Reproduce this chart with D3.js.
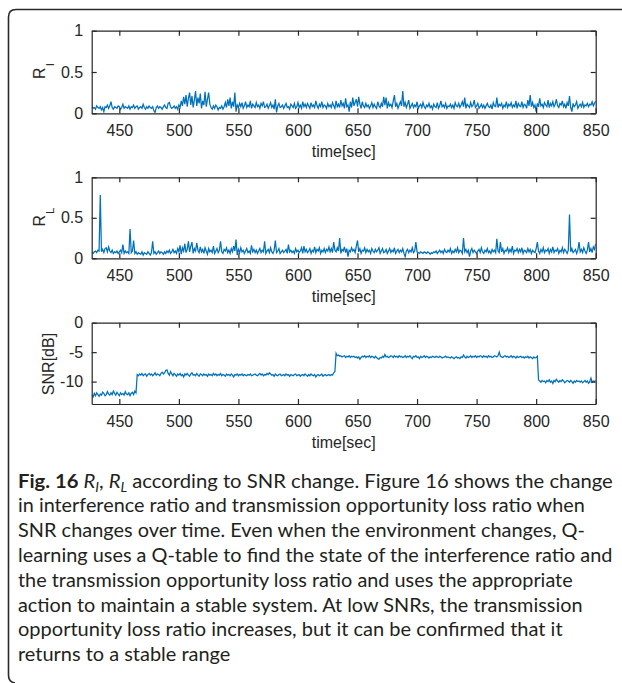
<!DOCTYPE html>
<html>
<head>
<meta charset="UTF-8">
<style>
body {margin:0; background:#fff;}
svg text {font-family: "Liberation Sans", Arial, sans-serif; fill:#262626;}
.axis text {font-size:16px; fill:#262626;}
.axis path, .axis line {stroke:#262626; stroke-width:1.2px;}
.ylab {font-size:16px;}
.cap text {font-family: Lato, "Open Sans", sans-serif; font-size:19px; fill:#231f20;}
.series {fill:none; stroke:#0072BD; stroke-width:1.25px;}
</style>
<script src="https://cdn.jsdelivr.net/npm/d3@7"></script>
<title>Fig. 16</title>
</head>
<body>
<svg id="chart" width="622" height="683"></svg>
<script>
// one sample per second, first sample at t = 427 s
var tStart = 427;
var xTicks = [450, 500, 550, 600, 650, 700, 750, 800, 850];
var rTicks = [0, 0.5, 1];
var rTickLabels = ['0', '0.5', '1'];
var snrTicks = [-10, -5, 0];
var snrTickLabels = ['-10', '-5', '0'];

// interference ratio R_I
var rI = [
 .08,.06,.07,.05,.09,.07,.06,.08,.04,.07,
 .02,.08,.07,.10,.06,.09,.14,.07,.05,.08,
 .07,.06,.09,.08,.05,.07,.11,.06,.08,.07,
 .06,.09,.05,.08,.07,.10,.06,.08,.09,.05,
 .07,.08,.06,.11,.07,.05,.08,.06,.09,.07,
 .06,.08,.03,.01,.07,.09,.06,.08,.07,.05,
 .08,.10,.07,.06,.12,.13,.08,.06,.07,.09,
 .06,.08,.05,.10,.07,.15,.09,.20,.11,.22,
 .08,.18,.25,.10,.21,.07,.16,.27,.09,.19,
 .12,.24,.06,.15,.10,.26,.08,.17,.25,.11,
 .07,.05,.09,.06,.10,.08,.04,.07,.06,.09,
 .05,.08,.13,.07,.17,.09,.19,.06,.14,.08,
 .25,.02,.10,.07,.12,.08,.13,.06,.09,.14,
 .07,.10,.08,.15,.06,.11,.09,.07,.13,.08,
 .10,.06,.12,.09,.14,.07,.08,.11,.06,.09,
 .13,.07,.10,.05,.17,.01,.09,.12,.07,.08,
 .10,.06,.09,.12,.07,.08,.05,.11,.09,.07,
 .12,.06,.08,.13,.07,.10,.06,.14,.08,.11,
 .07,.12,.09,.06,.13,.08,.10,.07,.15,.09,
 .06,.11,.08,.14,.07,.10,.09,.06,.12,.08,
 .10,.07,.13,.09,.06,.15,.08,.11,.07,.16,
 .09,.12,.06,.18,.08,.10,.02,.14,.07,.19,
 .09,.13,.17,.08,.20,.11,.06,.14,.09,.07,
 .12,.08,.10,.06,.09,.13,.07,.11,.08,.06,
 .14,.09,.07,.12,.08,.20,.10,.19,.06,.13,
 .09,.11,.07,.15,.22,.08,.12,.06,.10,.14,
 .09,.27,.08,.13,.07,.11,.16,.06,.09,.12,
 .07,.10,.08,.14,.06,.09,.11,.07,.13,.08,
 .06,.10,.08,.12,.07,.09,.05,.11,.08,.07,
 .13,.06,.09,.15,.08,.10,.07,.12,.06,.09,
 .08,.11,.07,.10,.06,.13,.09,.08,.12,.07,
 .10,.14,.08,.19,.06,.11,.09,.07,.13,.08,
 .10,.16,.07,.09,.12,.06,.08,.11,.07,.10,
 .06,.09,.12,.08,.07,.10,.05,.13,.09,.08,
 .19,.07,.11,.09,.12,.06,.10,.08,.14,.07,
 .11,.09,.13,.07,.10,.08,.15,.06,.12,.09,
 .08,.14,.07,.11,.10,.06,.16,.09,.22,.08,
 .13,.07,.10,.02,.12,.08,.18,.09,.11,.07,
 .13,.10,.08,.16,.07,.12,.09,.14,.08,.11,
 .17,.09,.07,.12,.10,.15,.08,.11,.06,.13,
 .09,.21,.07,.02,.12,.08,.10,.14,.06,.09,
 .11,.08,.13,.07,.10,.09,.12,.08,.11,.10,
 .14,.09,.12,.15
];

// transmission opportunity loss ratio R_L
var rL = [
 .07,.06,.08,.09,.07,.10,.09,.78,.08,.11,
 .07,.12,.13,.08,.14,.09,.07,.10,.06,.08,
 .07,.09,.06,.08,.10,.07,.17,.06,.09,.07,
 .08,.06,.36,.07,.09,.22,.06,.08,.05,.07,
 .06,.05,.08,.04,.07,.06,.05,.08,.06,.04,
 .07,.21,.06,.08,.05,.07,.09,.06,.08,.07,
 .05,.08,.06,.09,.07,.10,.06,.08,.11,.07,
 .09,.06,.12,.08,.16,.05,.13,.09,.18,.07,
 .11,.21,.08,.15,.20,.06,.12,.09,.19,.10,
 .07,.14,.08,.11,.06,.13,.09,.05,.12,.08,
 .10,.07,.15,.06,.09,.12,.07,.10,.21,.08,
 .06,.11,.09,.13,.07,.10,.06,.12,.08,.15,
 .09,.23,.04,.11,.07,.13,.08,.10,.06,.09,
 .12,.07,.09,.06,.16,.08,.11,.07,.10,.06,
 .09,.12,.07,.10,.08,.21,.06,.09,.11,.07,
 .13,.08,.06,.10,.22,.07,.09,.12,.06,.08,
 .10,.07,.09,.11,.06,.17,.08,.10,.07,.09,
 .06,.12,.08,.10,.07,.09,.13,.06,.15,.08,
 .11,.07,.09,.12,.06,.10,.08,.14,.07,.11,
 .09,.13,.06,.10,.08,.12,.07,.11,.09,.14,
 .08,.12,.07,.20,.10,.08,.13,.09,.25,.06,
 .11,.09,.14,.07,.12,.02,.10,.08,.13,.09,
 .11,.07,.15,.22,.08,.12,.06,.10,.09,.13,
 .07,.11,.08,.10,.06,.12,.09,.07,.11,.08,
 .10,.13,.06,.09,.12,.07,.08,.11,.06,.09,
 .12,.07,.10,.08,.13,.06,.09,.11,.07,.10,
 .08,.12,.06,.02,.09,.11,.07,.10,.08,.13,
 .07,.09,.20,.08,.07,.06,.08,.07,.06,.08,
 .07,.06,.08,.07,.05,.07,.06,.08,.07,.09,
 .06,.08,.10,.07,.09,.06,.11,.08,.07,.10,
 .08,.12,.06,.09,.07,.11,.08,.13,.07,.10,
 .09,.06,.25,.08,.11,.07,.10,.02,.09,.12,
 .07,.10,.08,.06,.09,.11,.07,.13,.08,.06,
 .10,.08,.12,.07,.09,.06,.11,.08,.10,.07,
 .24,.09,.07,.20,.08,.12,.06,.10,.09,.13,
 .07,.11,.08,.15,.06,.10,.09,.12,.07,.11,
 .08,.13,.06,.10,.09,.07,.12,.08,.11,.06,
 .10,.08,.07,.12,.20,.09,.06,.11,.08,.13,
 .07,.10,.09,.12,.06,.11,.08,.14,.07,.10,
 .09,.12,.06,.10,.08,.13,.07,.11,.09,.06,
 .10,.54,.08,.12,.07,.09,.11,.06,.10,.20,
 .08,.11,.07,.13,.09,.06,.10,.20,.08,.12,
 .07,.14,.11,.18
];

// SNR [dB]
var snr = [
 -12.3,-12.6,-12.0,-12.4,-11.9,-12.2,-12.5,-12.1,-12.3,-11.8,
 -12.0,-12.4,-12.2,-11.7,-12.1,-12.3,-11.9,-12.2,-11.6,-12.0,
 -12.3,-11.8,-12.1,-12.4,-11.9,-12.2,-12.0,-12.3,-11.7,-12.1,
 -12.2,-11.9,-12.4,-12.0,-11.8,-12.2,-11.6,-11.9,-8.8,-9.0,
 -8.7,-8.9,-8.6,-9.0,-8.8,-8.7,-9.1,-8.8,-8.6,-8.9,
 -8.7,-9.0,-8.8,-8.5,-8.9,-8.7,-8.8,-9.0,-8.6,-8.4,
 -8.7,-8.5,-8.1,-8.0,-8.6,-8.9,-8.3,-8.7,-9.0,-8.6,
 -8.8,-9.1,-8.7,-8.9,-8.6,-9.0,-8.8,-9.2,-8.7,-8.9,
 -8.6,-8.9,-9.1,-8.7,-8.5,-8.9,-8.8,-9.0,-8.6,-8.9,
 -9.1,-8.7,-8.8,-9.0,-8.7,-8.9,-8.8,-9.1,-8.7,-8.9,
 -8.8,-9.0,-8.6,-8.9,-8.7,-9.0,-8.8,-8.9,-8.6,-9.0,
 -8.8,-8.9,-9.1,-8.7,-8.9,-8.8,-9.0,-8.7,-8.9,-9.2,
 -8.8,-8.9,-8.7,-9.0,-8.8,-8.9,-8.7,-9.0,-8.8,-8.9,
 -9.0,-8.8,-8.9,-8.7,-9.0,-8.9,-8.8,-8.7,-8.9,-9.0,
 -8.8,-8.6,-8.9,-8.7,-9.0,-8.8,-8.9,-8.6,-8.8,-8.5,
 -8.7,-8.9,-8.8,-9.1,-8.7,-8.9,-9.0,-8.8,-8.7,-9.0,
 -8.9,-8.8,-9.0,-8.7,-8.9,-8.8,-9.1,-8.8,-8.9,-9.0,
 -8.8,-8.7,-9.0,-8.9,-8.8,-9.1,-8.9,-8.8,-9.0,-8.7,
 -8.9,-9.1,-8.8,-9.0,-8.7,-8.9,-9.0,-8.8,-9.2,-8.9,
 -8.8,-9.0,-8.9,-8.7,-9.1,-8.9,-8.8,-9.0,-8.9,-8.8,
 -9.0,-8.8,-8.9,-8.5,-8.3,-5.2,-5.6,-5.5,-5.7,-5.6,
 -5.8,-5.7,-5.6,-5.9,-5.7,-5.8,-5.6,-5.9,-5.7,-5.8,
 -5.7,-5.9,-5.8,-6.0,-5.8,-6.2,-5.9,-5.7,-5.8,-5.6,
 -5.9,-5.7,-5.8,-5.6,-5.9,-5.7,-5.8,-6.0,-5.7,-5.9,
 -6.1,-6.2,-5.9,-6.0,-5.7,-5.9,-5.4,-5.8,-5.7,-5.9,
 -5.8,-5.6,-5.7,-5.9,-5.6,-5.8,-5.7,-5.9,-5.6,-5.8,
 -5.7,-5.9,-5.8,-5.6,-5.9,-5.7,-5.8,-5.6,-5.9,-6.1,
 -5.7,-5.8,-5.6,-5.9,-5.8,-6.1,-5.7,-5.9,-5.8,-5.6,
 -5.9,-5.7,-5.8,-6.0,-5.8,-5.9,-5.7,-5.8,-5.9,-5.7,
 -5.8,-5.9,-5.7,-5.8,-6.0,-5.9,-5.8,-5.7,-5.9,-5.8,
 -5.9,-6.0,-5.8,-5.9,-6.1,-5.9,-5.8,-6.0,-5.9,-6.1,
 -5.8,-5.9,-5.5,-5.8,-6.0,-5.7,-5.9,-5.8,-5.6,-5.9,
 -5.7,-5.8,-5.6,-5.9,-5.7,-5.8,-5.6,-5.7,-5.9,-5.6,
 -5.8,-5.7,-5.9,-5.6,-5.8,-5.7,-5.9,-5.8,-5.6,-5.7,
 -5.8,-5.6,-5.0,-5.7,-5.8,-5.9,-5.7,-5.6,-5.8,-5.7,
 -5.9,-5.8,-5.6,-5.9,-5.7,-5.8,-6.0,-5.7,-5.9,-5.8,
 -5.7,-5.9,-5.8,-6.0,-5.8,-5.9,-5.7,-6.0,-5.8,-5.9,
 -6.1,-5.8,-6.0,-5.9,-5.7,-9.7,-9.9,-10.1,-9.8,-10.0,
 -9.9,-10.2,-9.8,-10.0,-9.7,-10.1,-9.9,-10.3,-9.8,-10.0,
 -9.6,-9.9,-10.1,-9.8,-10.0,-9.7,-9.9,-10.2,-10.0,-9.8,
 -9.9,-10.1,-9.8,-10.0,-10.3,-9.9,-10.1,-9.8,-10.0,-9.9,
 -10.1,-9.9,-10.2,-10.0,-9.8,-10.1,-9.9,-10.3,-10.0,-9.4,
 -10.1,-9.9,-10.0,-9.8
];

var captionLines = [
  'in interference ratio and transmission opportunity loss ratio when',
  'SNR changes over time. Even when the environment changes, Q-',
  'learning uses a Q-table to find the state of the interference ratio and',
  'the transmission opportunity loss ratio and uses the appropriate',
  'action to maintain a stable system. At low SNRs, the transmission',
  'opportunity loss ratio increases, but it can be confirmed that it',
  'returns to a stable range'
];

var svg = d3.select('#chart');

// outer frame of the figure box
svg.append('path')
  .attr('d', 'M622,9.5 H16 Q8.5,9.5 8.5,17 V675 Q8.5,682 15,683')
  .attr('fill', 'none').attr('stroke', '#2a2a2a').attr('stroke-width', 1.6);

var x = d3.scaleLinear().domain([426.8, 850]).range([91.7, 595.7]);

var panels = [
  {data: rI, top: 30.7, bottom: 113.3, domain: [0, 1], ticks: rTicks, tickLabels: rTickLabels, label: 'R', sub: 'I', labX: 45, labY: 71},
  {data: rL, top: 177.3, bottom: 258.3, domain: [0, 1], ticks: rTicks, tickLabels: rTickLabels, label: 'R', sub: 'L', labX: 45, labY: 217},
  {data: snr, top: 322.7, bottom: 404, domain: [-13.8, 0], ticks: snrTicks, tickLabels: snrTickLabels, label: 'SNR[dB]', sub: null, labX: 54, labY: 364}
];

panels.forEach(function(p, k) {
  var y = d3.scaleLinear().domain(p.domain).range([p.bottom, p.top]);
  var g = svg.append('g');

  var clipId = 'clip' + k;
  svg.append('clipPath').attr('id', clipId).append('rect')
    .attr('x', x.range()[0]).attr('y', p.top)
    .attr('width', x.range()[1] - x.range()[0]).attr('height', p.bottom - p.top);

  var line = d3.line()
    .x(function(d, i) { return x(tStart + i); })
    .y(function(d) { return y(d); });

  g.append('path').datum(p.data)
    .attr('class', 'series')
    .attr('clip-path', 'url(#' + clipId + ')')
    .attr('d', line);

  // MATLAB-like box with inward ticks
  g.append('g').attr('class', 'axis')
    .attr('transform', 'translate(0,' + p.bottom + ')')
    .call(d3.axisBottom(x).tickValues(xTicks).tickSizeInner(-5).tickSizeOuter(0).tickPadding(11.6).tickFormat(d3.format('d')));
  g.append('g').attr('class', 'axis')
    .attr('transform', 'translate(0,' + p.top + ')')
    .call(d3.axisTop(x).tickValues(xTicks).tickSizeInner(-5).tickSizeOuter(0).tickFormat(''));
  g.append('g').attr('class', 'axis')
    .attr('transform', 'translate(' + x.range()[0] + ',0)')
    .call(d3.axisLeft(y).tickValues(p.ticks).tickSizeInner(-5).tickSizeOuter(0).tickPadding(8.5)
      .tickFormat(function(d, i) { return p.tickLabels[i]; }));
  g.append('g').attr('class', 'axis')
    .attr('transform', 'translate(' + x.range()[1] + ',0)')
    .call(d3.axisRight(y).tickValues(p.ticks).tickSizeInner(-5).tickSizeOuter(0).tickFormat(''));

  g.selectAll('.axis').attr('font-size', null).attr('font-family', null);

  // x label
  g.append('text').attr('class', 'ylab')
    .attr('x', (x.range()[0] + x.range()[1]) / 2)
    .attr('y', p.bottom + 44)
    .attr('text-anchor', 'middle')
    .text('time[sec]');

  // y label (rotated)
  var yl = g.append('text').attr('class', 'ylab')
    .attr('transform', 'translate(' + p.labX + ',' + p.labY + ') rotate(-90)')
    .attr('text-anchor', 'middle');
  yl.append('tspan').text(p.label);
  if (p.sub) {
    yl.append('tspan').attr('dy', 9).attr('dx', 1).style('font-size', '11.5px').text(p.sub);
  }
});

// caption
var cap = svg.append('g').attr('class', 'cap');
var capX = 18;
var baseY = 487.5;
var lineGap = 24.8;
var lineEnds = [613, 585, 585, 613, 573, 583, 563, null];

var first = cap.append('text').attr('x', 0).attr('y', 0);
first.append('tspan').style('font-weight', 'bold').text('Fig. 16 ');
first.append('tspan').style('font-style', 'italic').text('R');
first.append('tspan').style('font-style', 'italic').style('font-size', '13px').attr('dy', 4).text('I');
first.append('tspan').attr('dy', -4).text(', ');
first.append('tspan').style('font-style', 'italic').text('R');
first.append('tspan').style('font-style', 'italic').style('font-size', '13px').attr('dy', 4).text('L');
first.append('tspan').attr('dy', -4).text(' according to SNR change. Figure 16 shows the change');

var texts = [first];
captionLines.forEach(function(s) {
  texts.push(cap.append('text').attr('x', 0).attr('y', 0).text(s));
});

var scales = [];
texts.forEach(function(t, i) {
  var w = t.node().getBBox().width;
  var s;
  if (lineEnds[i] != null) {
    s = (lineEnds[i] - capX) / w;
    scales.push(s);
  } else {
    s = d3.mean(scales);
  }
  t.attr('transform', 'translate(' + capX + ',' + (baseY + i * lineGap) + ') scale(' + s + ',1)');
});
</script>
</body>
</html>
